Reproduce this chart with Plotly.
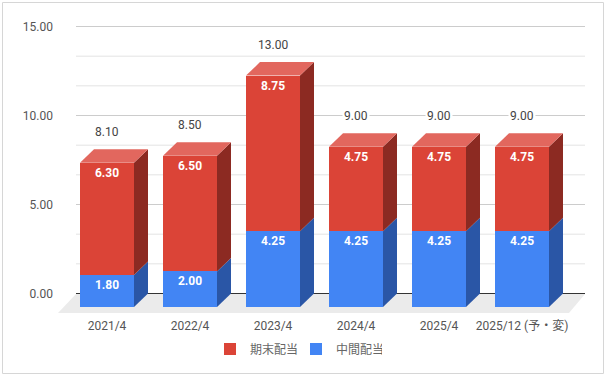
import plotly.graph_objects as go

# ---- data ----
categories = ["2021/4", "2022/4", "2023/4", "2024/4", "2025/4", "2025/12 (予・変)"]
interim = [1.80, 2.00, 4.25, 4.25, 4.25, 4.25]      # 中間配当
year_end = [6.30, 6.50, 8.75, 4.75, 4.75, 4.75]     # 期末配当
totals = [8.10, 8.50, 13.00, 9.00, 9.00, 9.00]
y_tick_values = [0, 5, 10, 15]
y_tick_labels = ["0.00", "5.00", "10.00", "15.00"]
name_interim = "中間配当"
name_year_end = "期末配当"

# ---- geometry (pixels) ----
W, H = 608, 379
PL, PR, PT, PB = 58, 600, 15, 313      # plot area in px
X0PX, XSTEP = 107, 83                  # first category centre, spacing
Y0F, YSCALE = 307, 17.8                # front-plane zero, px per unit
DEPTH_X, DEPTH_Y = 14, 13.5            # 3D depth offset
BAR_PX = 54

FONT = "Roboto, 'Noto Sans CJK JP', sans-serif"
RED, RED_TOP, RED_SIDE = "#DB4437", "#E2675E", "#8C2A22"
BLUE, BLUE_TOP, BLUE_SIDE = "#4285F4", "#6A9EF6", "#2A56A6"


def px2x(p):
    return (p - X0PX) / XSTEP


x_range = [px2x(PL), px2x(PR)]
y_range_front = [(Y0F - PB) / YSCALE, (Y0F - PT) / YSCALE]
Y0B = Y0F - DEPTH_Y
y_range_back = [(Y0B - PB) / YSCALE, (Y0B - PT) / YSCALE]
dxu = DEPTH_X / XSTEP
dyu = DEPTH_Y / YSCALE
bw = BAR_PX / XSTEP

idx = list(range(len(categories)))

fig = go.Figure()
common = dict(width=bw, texttemplate="%{y:.2f}", textposition="inside",
              insidetextanchor="end", textangle=0, constraintext="none",
              textfont=dict(color="white", size=12, family=FONT, weight="bold"),
              marker_line_width=0, hoverinfo="skip")
fig.add_trace(go.Bar(x=idx, y=interim, name=name_interim, marker_color=BLUE,
                     **common))
fig.add_trace(go.Bar(x=idx, y=year_end, name=name_year_end, marker_color=RED,
                     **common))
# helper trace so the back-plane axis exists
fig.add_trace(go.Scatter(x=[None], y=[None], yaxis="y2", showlegend=False,
                         hoverinfo="skip"))

shapes = []
# floor
fl = [(58, 313), (76, 294), (585, 294), (569, 313)]
path = "M " + " L ".join(f"{px2x(a)},{(Y0F - b) / YSCALE}" for a, b in fl) + " Z"
shapes.append(dict(type="path", path=path, xref="x", yref="y",
                   fillcolor="#ebebeb", line_width=0, layer="below"))
# back-plane gridlines
g_x0, g_x1 = px2x(76), px2x(585)
step = 5 / 3
for k in range(1, 10):
    v = k * step
    shapes.append(dict(type="line", xref="x", yref="y2", x0=g_x0, x1=g_x1,
                       y0=v, y1=v, layer="below",
                       line=dict(color="#cccccc" if k % 3 == 0 else "#e3e3e3",
                                 width=1)))
shapes.append(dict(type="line", xref="x", yref="y2", x0=g_x0, x1=g_x1,
                   y0=0, y1=0, layer="below", line=dict(color="#333333", width=1)))


def poly(pts):
    return "M " + " L ".join(f"{a},{b}" for a, b in pts) + " Z"


# 3D side and top faces from the data
for i in idx:
    xr_ = i + bw / 2
    xl_ = i - bw / 2
    segs = [(0, interim[i], BLUE_SIDE), (interim[i], interim[i] + year_end[i], RED_SIDE)]
    for lo, hi, col in segs:
        shapes.append(dict(type="path", xref="x", yref="y", line_width=0,
                           fillcolor=col,
                           path=poly([(xr_, lo), (xr_ + dxu, lo + dyu),
                                      (xr_ + dxu, hi + dyu), (xr_, hi)])))
    top = interim[i] + year_end[i]
    shapes.append(dict(type="path", xref="x", yref="y", line_width=0,
                       fillcolor=RED_TOP,
                       path=poly([(xl_, top), (xl_ + dxu, top + dyu),
                                  (xr_ + dxu, top + dyu), (xr_, top)])))

# outer border
shapes.append(dict(type="rect", xref="paper", yref="paper",
                   x0=2.5 / W, x1=603.5 / W, y0=1 - 373.5 / H, y1=1 - 2.5 / H,
                   line=dict(color="#d6d6d6", width=1), fillcolor="rgba(0,0,0,0)"))

annotations = []
for i in idx:
    annotations.append(dict(x=i, y=totals[i], xref="x", yref="y",
                            text=f"{totals[i]:.2f}", showarrow=False,
                            yshift=DEPTH_Y + 17.5, yanchor="middle",
                            bgcolor="white",
                            font=dict(size=12, color="#444444", family=FONT)))

fig.update_layout(
    width=W, height=H,
    margin=dict(l=0, r=0, t=0, b=0, autoexpand=False),
    paper_bgcolor="white", plot_bgcolor="rgba(0,0,0,0)",
    barmode="stack", bargap=0,
    font=dict(family=FONT, size=12, color="#444444"),
    xaxis=dict(domain=[PL / W, PR / W], range=x_range, tickvals=idx,
               ticktext=categories, showgrid=False, zeroline=False,
               showline=False, ticks="", automargin=False, ticklabelstandoff=4,
               tickfont=dict(size=12, color="#555555")),
    yaxis=dict(domain=[1 - PB / H, 1 - PT / H], range=y_range_front,
               showticklabels=False, showgrid=False, zeroline=False,
               showline=False, ticks="", automargin=False),
    yaxis2=dict(overlaying="y", anchor="x", side="left", range=y_range_back,
                tickvals=y_tick_values, ticktext=y_tick_labels,
                showgrid=False, zeroline=False, showline=False, ticks="",
                automargin=False, ticklabelstandoff=4,
                tickfont=dict(size=12, color="#555555")),
    legend=dict(orientation="h", x=210 / W, xanchor="left",
                y=1 - 349 / H, yanchor="middle", traceorder="reversed",
                entrywidth=41, entrywidthmode="pixels",
                font=dict(size=12, color="#666666", family=FONT)),
    shapes=shapes,
    annotations=annotations,
    hovermode=False,
)

fig.write_html("out.html",
               config={"displayModeBar": False},
               post_script="document.body.style.margin='0';"
                           "document.body.style.overflow='hidden';")
